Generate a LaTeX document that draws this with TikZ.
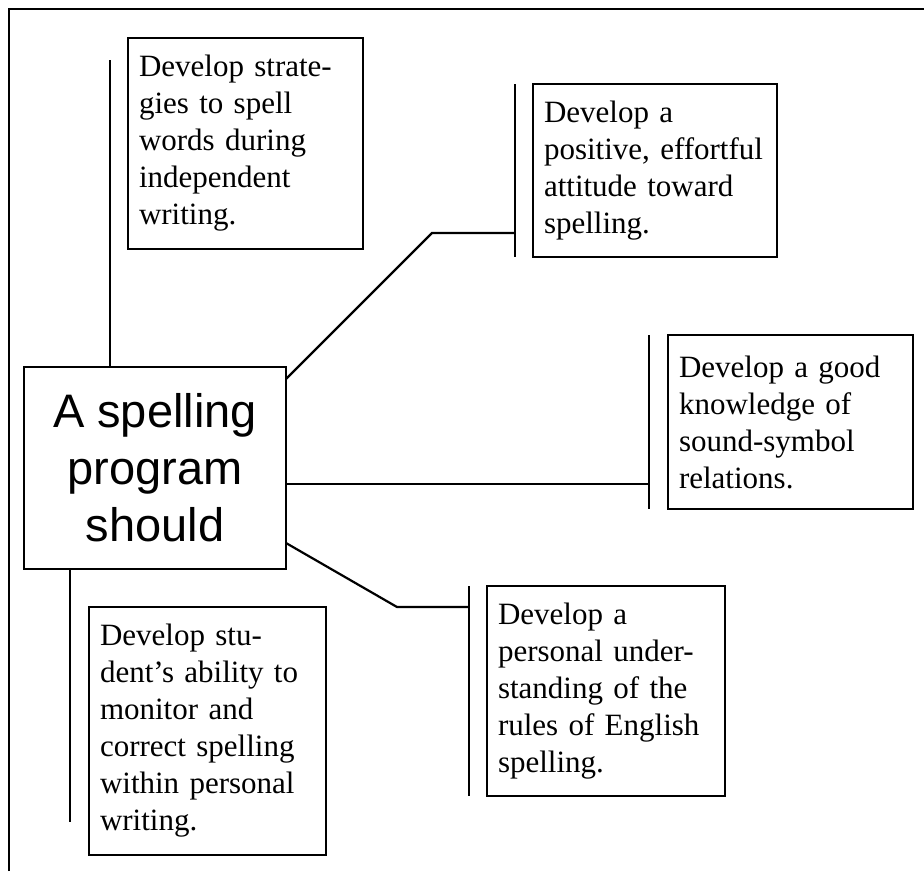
\documentclass[tikz,border=0pt]{standalone}
\usepackage{fontspec}
\setmainfont{Liberation Serif}
\newfontfamily\headfont{Liberation Sans}
\begin{document}
\begin{tikzpicture}[x=1pt,y=-1pt,
    goal/.style={draw,line width=2.3pt,anchor=north west,align=left,outer sep=0pt,
      inner xsep=11pt,inner ysep=0pt,font=\fontsize{31pt}{37pt}\selectfont},
    hub/.style={draw,line width=2.3pt,align=center,outer sep=0pt,inner sep=0pt,
      minimum width=262pt,minimum height=202pt,
      font=\headfont\fontsize{47pt}{57pt}\selectfont}]
  \useasboundingbox (0,0) rectangle (924,871);
  \draw[line width=1.5pt] (9,871) -- (9,9) -- (924,9);
  \draw
    (155,468) node[hub] (prog){A spelling\\program\\should}
    (128,38) node[goal,text width=213pt,minimum height=211pt] (strat){Develop strate-\\gies to spell\\words during\\independent\\writing.}
    (533,84) node[goal,text width=222pt,minimum height=173pt] (attit){Develop a\\positive, effortful\\attitude toward\\spelling.}
    (668,335) node[goal,text width=223pt,minimum height=174pt] (sound){Develop a good\\knowledge of\\sound-symbol\\relations.}
    (89,607) node[goal,text width=215pt,minimum height=248pt] (monit){Develop stu-\\dent's ability to\\monitor and\\correct spelling\\within personal\\writing.}
    (487,586) node[goal,text width=216pt,minimum height=210pt] (rules){Develop a\\personal under-\\standing of the\\rules of English\\spelling.};
  \coordinate (bs) at ([xshift=-18pt,yshift=-22pt]strat.north west);
  \coordinate (bm) at ([xshift=-19pt,yshift=33pt]monit.south west);
  \coordinate (ba) at ([xshift=-18pt]attit.west);
  \coordinate (bo) at ([xshift=-19pt]sound.west);
  \coordinate (br) at ([xshift=-18pt]rules.west);
  \coordinate (ka) at (432,233);
  \coordinate (kr) at (397,607);
  \coordinate (cs) at ([yshift=-16pt]prog.east);
  \begin{scope}[line width=2.6pt]
    \draw (bs) to (bs |- prog.north);
    \draw (bm |- prog.south) to (bm);
    \draw (ba |- attit.north) to (ba |- attit.south);
    \draw (bo |- sound.north) to (bo |- sound.south);
    \draw (br |- rules.north) to (br |- rules.south);
  \end{scope}
  \begin{scope}[line width=2.2pt]
    \draw ([yshift=-12pt]prog.north east) -- (ka) -- (ka -| ba);
    \draw (cs) to (cs -| bo);
    \draw ([yshift=26pt]prog.south east) -- (kr) -- (kr -| br);
  \end{scope}
\end{tikzpicture}
\end{document}
